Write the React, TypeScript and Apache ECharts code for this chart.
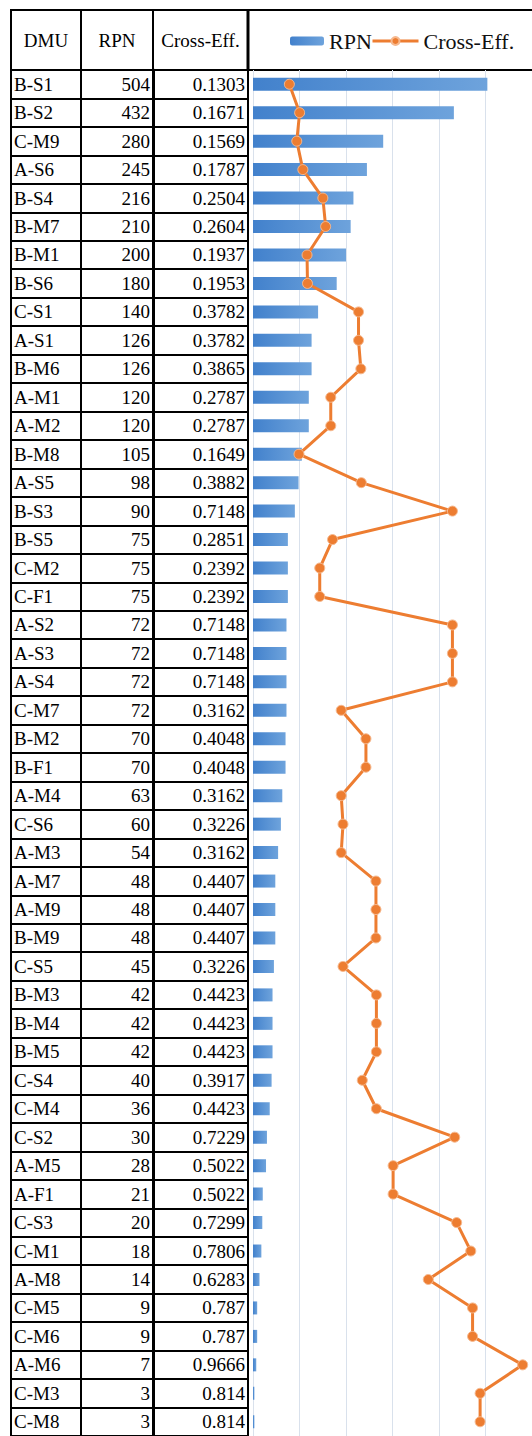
import React, { useEffect, useRef } from "react";
import * as echarts from "echarts";

const dmu = ["B-S1","B-S2","C-M9","A-S6","B-S4","B-M7","B-M1","B-S6","C-S1","A-S1","B-M6","A-M1","A-M2","B-M8","A-S5","B-S3","B-S5","C-M2","C-F1","A-S2","A-S3","A-S4","C-M7","B-M2","B-F1","A-M4","C-S6","A-M3","A-M7","A-M9","B-M9","C-S5","B-M3","B-M4","B-M5","C-S4","C-M4","C-S2","A-M5","A-F1","C-S3","C-M1","A-M8","C-M5","C-M6","A-M6","C-M3","C-M8"];
const rpn = [504,432,280,245,216,210,200,180,140,126,126,120,120,105,98,90,75,75,75,72,72,72,72,70,70,63,60,54,48,48,48,45,42,42,42,40,36,30,28,21,20,18,14,9,9,7,3,3];
const crossEff = ["0.1303","0.1671","0.1569","0.1787","0.2504","0.2604","0.1937","0.1953","0.3782","0.3782","0.3865","0.2787","0.2787","0.1649","0.3882","0.7148","0.2851","0.2392","0.2392","0.7148","0.7148","0.7148","0.3162","0.4048","0.4048","0.3162","0.3226","0.3162","0.4407","0.4407","0.4407","0.3226","0.4423","0.4423","0.4423","0.3917","0.4423","0.7229","0.5022","0.5022","0.7299","0.7806","0.6283","0.787","0.787","0.9666","0.814","0.814"];
const headers = ["DMU", "RPN", "Cross-Eff."];
const legendNames = ["RPN", "Cross-Eff."];
const rpnTicks = { min: 0, max: 600, interval: 100 };
const effTicks = { min: 0, max: 1 };

const W = 532;
const H = 1436;
const FONT = "Liberation Serif, serif";
const FS = 19;
const HEAD_TOP = 10;
const TOP = 70;
const ROW_H = 28.62;
const COLS = [11, 81, 153, 248];
const CHART_LEFT = 253;
const CHART_RIGHT = -3;

export default function App() {
  const ref = useRef<HTMLDivElement>(null);
  useEffect(() => {
    if (!ref.current) return;
    const chart = echarts.init(ref.current, null, { renderer: "svg" });
    const bottom = H - TOP - dmu.length * ROW_H;
    const colData = [dmu, rpn.map(String), crossEff];

    const grids: any[] = [];
    const xAxes: any[] = [];
    const yAxes: any[] = [];
    for (let c = 0; c < 3; c++) {
      grids.push({
        left: COLS[c], right: W - COLS[c + 1], top: TOP, bottom,
        show: true, borderColor: "#000", borderWidth: 2, backgroundColor: "transparent",
      });
      xAxes.push({ type: "value", gridIndex: c, show: false });
      yAxes.push({
        type: "category", gridIndex: c, inverse: true, data: colData[c],
        position: c === 0 ? "left" : "right",
        axisLine: c === 2 ? { show: true, lineStyle: { color: "#000", width: 3 } } : { show: false },
        axisTick: { show: false },
        splitLine: { show: true, interval: 0, lineStyle: { color: "#000", width: 2 } },
        axisLabel: {
          inside: true, interval: 0, margin: c === 0 ? 3 : 3,
          fontFamily: FONT, fontSize: FS, color: "#000",
        },
      });
    }
    grids.push({ left: CHART_LEFT, right: CHART_RIGHT, top: TOP, bottom });
    xAxes.push({
      type: "value", gridIndex: 3, ...rpnTicks,
      axisLine: { show: false }, axisTick: { show: false }, axisLabel: { show: false },
      splitLine: { show: true, lineStyle: { color: "#d9e1ec", width: 1 } },
    });
    xAxes.push({
      type: "value", gridIndex: 3, ...effTicks, position: "top",
      axisLine: { show: false }, axisTick: { show: false }, axisLabel: { show: false },
      splitLine: { show: false },
    });
    yAxes.push({
      type: "category", gridIndex: 3, inverse: true, data: dmu,
      axisLine: { show: false }, axisTick: { show: false }, axisLabel: { show: false },
      splitLine: { show: false },
    });

    const headerGraphics: any[] = [
      {
        type: "rect", shape: { x: COLS[0], y: HEAD_TOP, width: W - COLS[0] + 10, height: TOP - HEAD_TOP },
        style: { fill: "none", stroke: "#000", lineWidth: 2 },
      },
      { type: "line", shape: { x1: COLS[1], y1: HEAD_TOP, x2: COLS[1], y2: TOP }, style: { stroke: "#000", lineWidth: 2 } },
      { type: "line", shape: { x1: COLS[2], y1: HEAD_TOP, x2: COLS[2], y2: TOP }, style: { stroke: "#000", lineWidth: 2 } },
      { type: "line", shape: { x1: COLS[3], y1: HEAD_TOP, x2: COLS[3], y2: TOP }, style: { stroke: "#000", lineWidth: 3 } },
      ...headers.map((h, i) => ({
        type: "text",
        x: (COLS[i] + COLS[i + 1]) / 2, y: (HEAD_TOP + TOP) / 2,
        style: {
          text: h, font: FS + "px " + FONT, fontFamily: FONT, fontSize: FS,
          fill: "#000", align: "center", verticalAlign: "middle",
        },
      })),
    ];

    chart.setOption({
      animation: false,
      textStyle: { fontFamily: FONT },
      grid: grids,
      xAxis: xAxes,
      yAxis: yAxes,
      legend: [
        {
          data: [legendNames[0]], left: 290, top: 30, padding: 0,
          itemWidth: 34, itemHeight: 9,
          textStyle: { fontFamily: FONT, fontSize: 22, color: "#111" },
        },
        {
          data: [legendNames[1]], left: 371, top: 30, padding: 0,
          itemWidth: 46, itemHeight: 10,
          lineStyle: { width: 3 },
          textStyle: { fontFamily: FONT, fontSize: 22, color: "#111" },
        },
      ],
      graphic: headerGraphics,
      series: [
        {
          name: legendNames[0], type: "bar", xAxisIndex: 3, yAxisIndex: 3, data: rpn,
          barWidth: 13,
          itemStyle: {
            color: new echarts.graphic.LinearGradient(0, 0, 1, 0, [
              { offset: 0, color: "#4281cc" },
              { offset: 1, color: "#6ea3dc" },
            ]),
          },
        },
        {
          name: legendNames[1], type: "line", xAxisIndex: 4, yAxisIndex: 3,
          data: crossEff.map(Number),
          symbol: "circle", symbolSize: 10,
          lineStyle: { color: "#ed7d31", width: 3 },
          itemStyle: { color: "#ed7d31", borderColor: "#f6b98f", borderWidth: 1 },
        },
      ],
    });
    return () => chart.dispose();
  }, []);
  return (
    <div
      ref={ref}
      style={{ position: "absolute", left: 0, top: 0, width: W, height: H, background: "#fff" }}
    />
  );
}
